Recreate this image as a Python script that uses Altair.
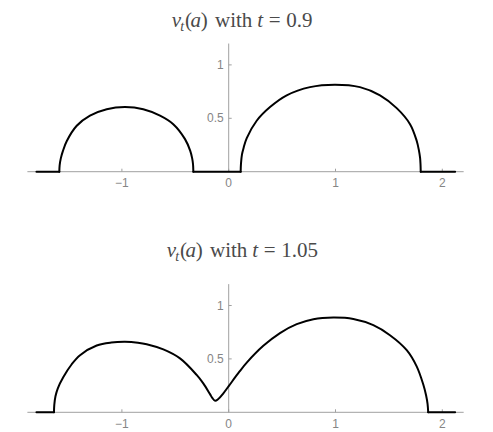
import altair as alt
import pandas as pd

# ---------------- data ----------------
panels = ["top", "bottom"]
t_values = ["0.9", "1.05"]

top_a = [-1.80, -1.586, -1.583, -1.572, -1.552, -1.517, -1.423, -1.299, -1.142, -0.971,
         -0.80, -0.643, -0.519, -0.409, -0.36, -0.342, -0.334, -0.331,
         0.112, 0.115, 0.124, 0.140, 0.169, 0.262, 0.387, 0.543, 0.761, 0.995, 1.229,
         1.417, 1.573, 1.698, 1.76, 1.781, 1.792, 1.796, 1.798, 2.12]
top_v = [0.0, 0.0, 0.06, 0.125, 0.195, 0.285, 0.43, 0.525, 0.585, 0.605,
         0.585, 0.525, 0.445, 0.305, 0.195, 0.125, 0.07, 0.0,
         0.0, 0.075, 0.16, 0.225, 0.315, 0.477, 0.605, 0.715, 0.792, 0.815, 0.792,
         0.715, 0.595, 0.445, 0.29, 0.2, 0.13, 0.07, 0.0, 0.0]

bot_a = [-1.80, -1.636, -1.633, -1.622, -1.60, -1.548, -1.47, -1.392, -1.236, -1.10, -0.971,
         -0.85, -0.768, -0.612, -0.456, -0.30, -0.238, -0.175, -0.152, -0.127, -0.10,
         -0.05, 0.0, 0.10, 0.169, 0.324, 0.48, 0.637, 0.793, 0.98, 1.167, 1.354, 1.51,
         1.667, 1.76, 1.822, 1.848, 1.862, 1.868, 2.12]
bot_v = [0.0, 0.0, 0.07, 0.15, 0.225, 0.33, 0.45, 0.535, 0.625, 0.653, 0.66,
         0.652, 0.638, 0.589, 0.505, 0.35, 0.271, 0.17, 0.132, 0.108, 0.122,
         0.178, 0.245, 0.38, 0.465, 0.622, 0.742, 0.825, 0.872, 0.887, 0.874, 0.816, 0.722,
         0.582, 0.43, 0.26, 0.16, 0.08, 0.0, 0.0]

x_ticks = [-1, 0, 1, 2]
x_tick_labels = ["−1", "0", "1", "2"]
y_ticks = [0.5, 1.0]
y_tick_labels = ["0.5", "1"]

# ---------------- layout constants ----------------
W, H = 477, 424
PX = 106.8                      # pixels per unit (both axes)
X0_PX = 220.7                   # pixel of a = 0
ZERO_PX = {"top": 163.7, "bottom": 404.3}   # pixel of v = 0 in each panel
XD = [-X0_PX / PX, (W - X0_PX) / PX]
YD = [-(H - ZERO_PX["bottom"]) / PX, ZERO_PX["bottom"] / PX]
OFF = {p: (ZERO_PX["bottom"] - ZERO_PX[p]) / PX for p in panels}
AX_X = [-1.885, 2.2]
AX_Y_TOP = 1.2

AXIS_COLOR = "#a0a0a0"
LABEL_COLOR = "#858585"
TITLE_COLOR = "#4a4a4a"
SANS = "Liberation Sans"
SERIF = "Liberation Serif"

xs = alt.Scale(domain=XD, nice=False, zero=False)
ys = alt.Scale(domain=YD, nice=False, zero=False)


def split_segments(a, v, panel):
    """Split a curve into flat (v == 0) pieces and arc pieces sharing end points."""
    rows, seg = [], 0
    kind_prev = None
    for i in range(len(a) - 1):
        kind = "flat" if (v[i] == 0 and v[i + 1] == 0) else "arc"
        if kind != kind_prev:
            seg += 1
            rows.append({"a": a[i], "v": v[i], "panel": panel, "seg": f"{panel}{seg}", "i": i})
        rows.append({"a": a[i + 1], "v": v[i + 1], "panel": panel, "seg": f"{panel}{seg}", "i": i + 1})
        kind_prev = kind
    return rows


curve = pd.DataFrame(split_segments(top_a, top_v, "top") + split_segments(bot_a, bot_v, "bottom"))
curve["off"] = curve["panel"].map(OFF)

axes_df = pd.DataFrame({"panel": panels})
axes_df["off"] = axes_df["panel"].map(OFF)
axes_df["xmin"] = AX_X[0]
axes_df["xmax"] = AX_X[1]
axes_df["zero"] = 0.0
axes_df["ytop"] = axes_df["off"] + AX_Y_TOP

xt = pd.DataFrame([{"panel": p, "a": a, "lab": l, "off": OFF[p]}
                   for p in panels for a, l in zip(x_ticks, x_tick_labels)])
yt = pd.DataFrame([{"panel": p, "v": v, "lab": l, "Y": v + OFF[p], "zero": 0.0}
                   for p in panels for v, l in zip(y_ticks, y_tick_labels)])

# title pieces: (offset from left, text, italic, size, drop)
TITLE_LEFT = {"top": 163.7, "bottom": 158.7}
TITLE_BASE = {"top": 19.0, "bottom": 248.7}
rows = []
for p, tv in zip(panels, t_values):
    pieces = [(0, "v", True, 21, 0), (8.6, "t", True, 14, 4), (13.3, "(", False, 21, 0),
              (18.8, "a", True, 21, 0), (29.0, ")", False, 21, 0), (43.3, "with", False, 21, 0),
              (85.5, "t", True, 21, 0), (97.0, "=", False, 21, 0), (114.5, tv, False, 21, 0)]
    for off, txt, it, sz, dr in pieces:
        rows.append({"px": TITLE_LEFT[p] + off, "py": TITLE_BASE[p] + dr,
                     "txt": txt, "italic": it, "size": sz})
titles = pd.DataFrame(rows)

# ---------------- marks ----------------
line = alt.Chart(curve).transform_calculate(Y="datum.v + datum.off").mark_line(
    color="black", strokeWidth=2, interpolate="catmull-rom",
    strokeCap="round", strokeJoin="round",
).encode(
    x=alt.X("a:Q", scale=xs, axis=None),
    y=alt.Y("Y:Q", scale=ys, axis=None),
    detail="seg:N",
    order="i:Q",
)

x_axis = alt.Chart(axes_df).mark_rule(color=AXIS_COLOR, strokeWidth=1).encode(
    x=alt.X("xmin:Q", scale=xs, axis=None), x2="xmax:Q",
    y=alt.Y("off:Q", scale=ys, axis=None),
)
y_axis = alt.Chart(axes_df).mark_rule(color=AXIS_COLOR, strokeWidth=1).encode(
    x=alt.X("zero:Q", scale=xs, axis=None),
    y=alt.Y("off:Q", scale=ys, axis=None), y2="ytop:Q",
)
x_tick_marks = alt.Chart(xt).mark_rule(color=AXIS_COLOR, strokeWidth=1, y2Offset=-3).encode(
    x=alt.X("a:Q", scale=xs, axis=None),
    y=alt.Y("off:Q", scale=ys, axis=None), y2="off:Q",
)
y_tick_marks = alt.Chart(yt).mark_rule(color=AXIS_COLOR, strokeWidth=1, x2Offset=3).encode(
    x=alt.X("zero:Q", scale=xs, axis=None), x2="zero:Q",
    y=alt.Y("Y:Q", scale=ys, axis=None),
)
x_labels = alt.Chart(xt).mark_text(
    font=SANS, fontSize=12, color=LABEL_COLOR, baseline="middle", align="center", dy=11.5
).encode(
    x=alt.X("a:Q", scale=xs, axis=None),
    y=alt.Y("off:Q", scale=ys, axis=None),
    text="lab:N",
)
y_labels = alt.Chart(yt).mark_text(
    font=SANS, fontSize=12, color=LABEL_COLOR, baseline="middle", align="right", dx=-5
).encode(
    x=alt.X("zero:Q", scale=xs, axis=None),
    y=alt.Y("Y:Q", scale=ys, axis=None),
    text="lab:N",
)


def title_layer(italic):
    return alt.Chart(titles).transform_filter(
        alt.datum.italic == italic
    ).mark_text(
        font=SERIF, color=TITLE_COLOR, align="left", baseline="alphabetic",
        fontStyle="italic" if italic else "normal",
    ).encode(
        x=alt.X("px:Q", scale=None),
        y=alt.Y("py:Q", scale=None),
        size=alt.Size("size:Q", scale=None, legend=None),
        text="txt:N",
    )


chart = alt.layer(
    x_axis, y_axis, x_tick_marks, y_tick_marks, x_labels, y_labels, line,
    title_layer(True), title_layer(False),
).properties(
    width=W, height=H, autosize=alt.AutoSizeParams(type="none"), padding=0,
).configure_view(stroke=None)

chart.save("out.html", embed_options={"renderer": "svg", "actions": False})
